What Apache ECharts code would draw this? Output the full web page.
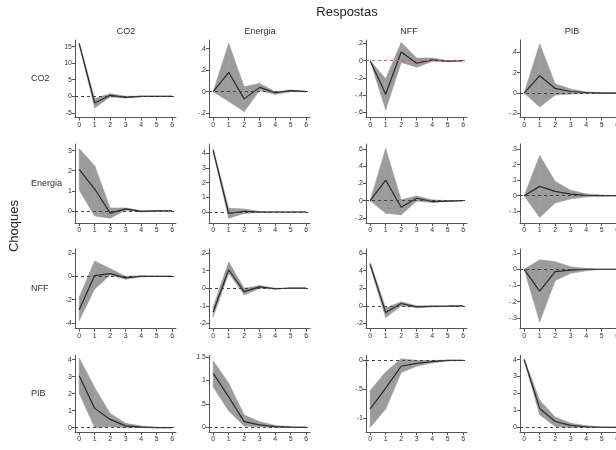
<!DOCTYPE html>
<html>
<head>
<meta charset="utf-8">
<script src="https://cdn.jsdelivr.net/npm/echarts@6/dist/echarts.min.js"></script>
<style>
  html, body { margin: 0; padding: 0; background: #fff; }
  #main { width: 616px; height: 450px; }
</style>
</head>
<body>
<div id="main"></div>
<script>
// respostas (colunas) e choques (linhas)
var respostas = ['CO2', 'Energia', 'NFF', 'PIB'];
var choques = ['CO2', 'Energia', 'NFF', 'PIB'];
var passos = [0, 1, 2, 3, 4, 5, 6];

// IRF por choque: uma lista por resposta (CO2, Energia, NFF, PIB)
var irfCO2 = [
  [15.9, -2.0, 0.3, -0.3, 0.0, 0.0, 0.0],
  [0, 0.18, -0.067, 0.04, -0.01, 0.01, 0.0],
  [0, -0.39, 0.1, -0.03, 0.01, -0.005, 0],
  [0, 0.17, 0.045, 0.015, 0.005, 0.0, 0.0]
];
var loCO2 = [
  [15.6, -3.5, -0.2, -0.5, -0.1, 0, 0],
  [0, -0.09, -0.185, 0.01, -0.025, 0.0, 0.0],
  [0, -0.57, -0.02, -0.075, -0.01, -0.01, 0],
  [0, -0.136, -0.02, -0.01, -0.005, 0, 0]
];
var hiCO2 = [
  [16.2, -0.7, 0.8, 0.0, 0.1, 0, 0],
  [0, 0.447, 0.046, 0.077, 0.0, 0.015, 0.005],
  [0, -0.21, 0.21, 0.03, 0.03, 0.0, 0],
  [0, 0.48, 0.09, 0.04, 0.01, 0.005, 0]
];

var irfEnergia = [
  [2.07, 1.09, -0.11, 0.1, -0.02, 0.0, 0.0],
  [4.2, -0.1, 0.05, 0.0, 0.0, 0.0, 0.0],
  [0, 0.24, -0.077, 0.028, -0.01, -0.005, 0],
  [0, 0.06, 0.028, 0.01, 0.003, 0.001, 0]
];
var loEnergia = [
  [1.04, -0.25, -0.36, 0.03, -0.05, -0.01, 0],
  [4.1, -0.43, -0.1, -0.03, 0, 0, 0],
  [0, -0.146, -0.165, -0.005, -0.02, -0.01, 0],
  [0, -0.139, -0.047, -0.02, -0.008, -0.003, 0]
];
var hiEnergia = [
  [3.1, 2.25, 0.15, 0.15, 0.01, 0.02, 0],
  [4.3, 0.25, 0.2, 0.03, 0.0, 0, 0],
  [0, 0.606, 0.01, 0.054, 0.01, 0.0, 0],
  [0, 0.258, 0.092, 0.035, 0.012, 0.004, 0]
];

var irfNFF = [
  [-2.87, 0.06, 0.23, -0.14, 0.0, 0.0, 0.0],
  [-1.35, 1.05, -0.19, 0.08, -0.03, 0.0, 0.0],
  [4.73, -0.76, 0.27, -0.11, -0.05, -0.03, 0.0],
  [0, -0.135, -0.015, -0.005, 0, 0, 0]
];
var loNFF = [
  [-3.8, -1.1, 0.1, -0.25, -0.05, 0, 0],
  [-1.63, 0.86, -0.38, 0.0, -0.06, 0, 0],
  [4.46, -1.33, 0.0, -0.2, -0.1, -0.05, 0],
  [0, -0.325, -0.07, -0.025, -0.01, 0, 0]
];
var hiNFF = [
  [-1.8, 1.3, 0.65, 0.0, 0.05, 0, 0],
  [-1.05, 1.49, 0.0, 0.15, 0.0, 0, 0],
  [4.9, -0.23, 0.46, 0.0, 0.0, 0.0, 0],
  [0, 0.058, 0.047, 0.015, 0.005, 0, 0]
];

var irfPIB = [
  [3.05, 1.13, 0.48, 0.1, 0.03, 0.0, 0.0],
  [1.15, 0.65, 0.12, 0.05, 0.015, 0.005, 0],
  [-0.84, -0.48, -0.1, -0.05, -0.02, 0, 0],
  [4.0, 1.12, 0.35, 0.12, 0.04, 0.01, 0]
];
var loPIB = [
  [2.02, 0.0, 0.05, 0.0, 0.0, 0.0, 0],
  [0.86, 0.35, 0.03, 0.01, 0.0, 0.0, 0],
  [-1.16, -0.84, -0.21, -0.1, -0.04, -0.01, 0],
  [3.95, 0.75, 0.06, 0.0, 0.0, 0.0, 0]
];
var hiPIB = [
  [4.1, 2.35, 0.83, 0.25, 0.1, 0.02, 0],
  [1.42, 0.94, 0.26, 0.12, 0.04, 0.01, 0],
  [-0.52, -0.2, 0.03, 0.0, 0.0, 0.005, 0],
  [4.05, 1.6, 0.61, 0.25, 0.1, 0.03, 0]
];

// ticks do eixo y
var ticksCO2 = [[-5, 0, 5, 10, 15], [-0.2, 0, 0.2, 0.4], [-0.6, -0.4, -0.2, 0, 0.2], [-0.2, 0, 0.2, 0.4]];
var ticksEnergia = [[0, 1, 2, 3], [0, 1, 2, 3, 4], [-0.2, 0, 0.2, 0.4, 0.6], [-0.1, 0, 0.1, 0.2, 0.3]];
var ticksNFF = [[-4, -2, 0, 2], [-2, -1, 0, 1, 2], [-2, 0, 2, 4, 6], [-0.3, -0.2, -0.1, 0, 0.1]];
var ticksPIB = [[0, 1, 2, 3, 4], [0, 0.5, 1, 1.5], [-1, -0.5, 0], [0, 1, 2, 3, 4]];

// limites do eixo y
var limCO2 = [[-6.4, 17], [-0.24, 0.48], [-0.66, 0.24], [-0.24, 0.52]];
var limEnergia = [[-0.6, 3.33], [-0.75, 4.63], [-0.26, 0.66], [-0.175, 0.332]];
var limNFF = [[-4.48, 2.34], [-2.29, 2.23], [-2.57, 6.46], [-0.366, 0.125]];
var limPIB = [[-0.26, 4.24], [-0.1, 1.53], [-1.24, 0.086], [-0.27, 4.24]];

var irf = [irfCO2, irfEnergia, irfNFF, irfPIB];
var lo = [loCO2, loEnergia, loNFF, loPIB];
var hi = [hiCO2, hiEnergia, hiNFF, hiPIB];
var ticks = [ticksCO2, ticksEnergia, ticksNFF, ticksPIB];
var lims = [limCO2, limEnergia, limNFF, limPIB];

// layout
var colLeft = [75, 209, 366, 520];
var colTitleX = [126, 260, 409, 572];
var gridW = 101;
var rowTop = [40, 144, 249, 355.5];
var rowBottom = [117.5, 223, 328.5, 432];

var font = '"Liberation Sans", Arial, sans-serif';
var axisColor = '#555';
var textColor = '#333';
var bandColor = '#9b9b9b';

function stata(v) {
  var s = String(Math.round(v * 1000) / 1000);
  return s.replace(/^0\./, '.').replace(/^-0\./, '-.');
}

// faixa de confianca: um quadrilatero por intervalo [k, k+1]
function renderBand(params, api) {
  var p0 = api.coord([api.value(0), api.value(1)]);
  var p1 = api.coord([api.value(3), api.value(4)]);
  var p2 = api.coord([api.value(3), api.value(5)]);
  var p3 = api.coord([api.value(0), api.value(2)]);
  return {
    type: 'polygon',
    shape: { points: [p0, p1, p2, p3] },
    style: { fill: bandColor, stroke: bandColor, lineWidth: 0.6 }
  };
}

var grids = [], xAxes = [], yAxes = [], series = [], graphic = [];

for (var r = 0; r < 4; r++) {
  for (var c = 0; c < 4; c++) {
    var i = r * 4 + c;
    grids.push({
      left: colLeft[c], top: rowTop[r], width: gridW, height: rowBottom[r] - rowTop[r],
      containLabel: false, outerBoundsMode: 'none'
    });
    xAxes.push({
      type: 'value', gridIndex: i, min: -0.27, max: 6.25,
      axisLine: { show: true, onZero: false, lineStyle: { color: axisColor, width: 1 } },
      axisTick: { show: true, length: 3, customValues: passos, lineStyle: { color: axisColor } },
      axisLabel: { customValues: passos, fontSize: 7, margin: 4, color: textColor, fontFamily: font },
      splitLine: { show: false }
    });
    yAxes.push({
      type: 'value', gridIndex: i, min: lims[r][c][0], max: lims[r][c][1],
      axisLine: { show: true, onZero: false, lineStyle: { color: axisColor, width: 1 } },
      axisTick: { show: true, length: 3, customValues: ticks[r][c], lineStyle: { color: axisColor } },
      axisLabel: { customValues: ticks[r][c], fontSize: 7, margin: 3, color: textColor, fontFamily: font,
        formatter: stata },
      splitLine: { show: false }
    });
    var L = lo[r][c], H = hi[r][c];
    var seg = [];
    for (var k = 0; k < passos.length - 1; k++) {
      seg.push([passos[k], L[k], H[k], passos[k + 1], L[k + 1], H[k + 1]]);
    }
    var zeroColor = (r === 0 && c === 2) ? '#e8566e' : '#444';
    series.push({
      type: 'line', xAxisIndex: i, yAxisIndex: i, data: [], silent: true, z: 1,
      markLine: {
        silent: true, symbol: 'none', label: { show: false }, animation: false,
        lineStyle: { color: zeroColor, type: [3, 3], width: 1 },
        data: [{ yAxis: 0 }]
      }
    });
    series.push({
      type: 'custom', xAxisIndex: i, yAxisIndex: i, data: seg, silent: true, z: 2,
      renderItem: renderBand, clip: true
    });
    series.push({
      type: 'line', xAxisIndex: i, yAxisIndex: i,
      data: passos.map(function (p, k) { return [p, irf[r][c][k]]; }),
      symbol: 'none', silent: true, z: 3,
      lineStyle: { color: '#2a2a2a', width: 1.2 }
    });
  }
}

for (var c2 = 0; c2 < 4; c2++) {
  graphic.push({
    type: 'text', x: colTitleX[c2], y: 32,
    style: { text: respostas[c2], font: '9px ' + font, fill: textColor, align: 'center', verticalAlign: 'middle' }
  });
}
for (var r2 = 0; r2 < 4; r2++) {
  graphic.push({
    type: 'text', x: 31, y: (rowTop[r2] + rowBottom[r2]) / 2,
    style: { text: choques[r2], font: '9px ' + font, fill: textColor, align: 'left', verticalAlign: 'middle' }
  });
}
graphic.push({
  type: 'text', x: 347, y: 12,
  style: { text: 'Respostas', font: '13px ' + font, fill: '#222', align: 'center', verticalAlign: 'middle' }
});
graphic.push({
  type: 'text', x: 14, y: 226, rotation: Math.PI / 2,
  style: { text: 'Choques', font: '13px ' + font, fill: '#222', align: 'center', verticalAlign: 'middle' }
});

var myChart = echarts.init(document.getElementById('main'), null, { renderer: 'canvas' });
myChart.setOption({
  animation: false,
  backgroundColor: '#fff',
  grid: grids,
  xAxis: xAxes,
  yAxis: yAxes,
  series: series,
  graphic: graphic
});
</script>
</body>
</html>
